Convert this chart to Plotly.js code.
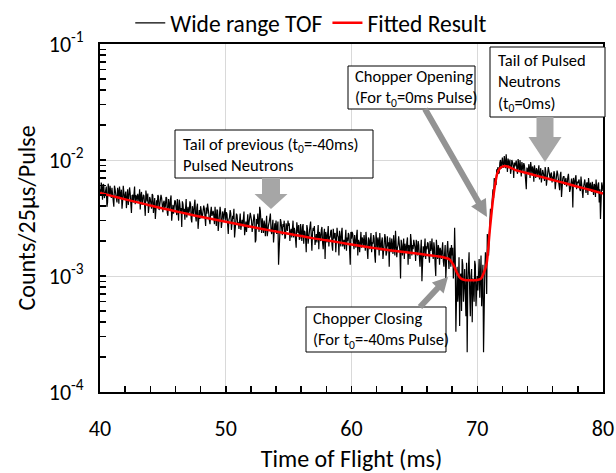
<!DOCTYPE html>
<html>
<head>
<meta charset="utf-8">
<script src="https://cdn.plot.ly/plotly-3.0.1.min.js"></script>
<style>html,body{margin:0;padding:0;background:#fff;}#chart{width:616px;height:473px;}</style>
</head>
<body>
<div id="chart"></div>
<script>
// ---- DATA ----
// Wide range TOF histogram, counts in units of 1e-5 counts/25us/pulse.
// countsE5: bins at 40.0, 40.1, ... 80.0 ms; countsMidE5: bins at 40.05, 40.15, ... 79.95 ms
const tofStartMs = 40;
const tofStepMs = 0.1;
const countsE5 = [
560,640,455,610,520,590,430,545,600,470,
530,395,560,480,575,420,505,555,440,520,
490,385,560,470,520,350,500,545,415,480,
510,440,375,530,455,490,330,470,515,400,
460,380,495,420,310,450,500,370,435,470,
355,445,400,470,330,420,455,300,410,385,
440,335,400,455,350,265,415,380,430,320,
395,360,420,290,375,405,330,390,255,370,
400,315,360,380,270,345,395,300,355,330,
365,280,340,375,245,320,350,290,335,360,
300,340,230,320,345,275,310,215,300,335,
290,320,250,305,330,225,295,315,260,300,
325,240,285,310,205,280,300,395,290,315,
235,280,300,220,275,310,250,265,195,285,
300,255,125,270,290,225,265,210,285,245,
270,200,255,280,215,245,175,260,275,210,
250,265,190,240,160,255,225,270,200,235,
245,185,230,255,170,220,250,195,230,140,
225,240,180,215,250,165,210,235,190,225,
150,215,235,180,205,240,165,200,225,125,
210,230,170,200,220,150,195,215,175,205,
225,165,195,140,205,215,160,190,210,130,
195,215,150,185,200,140,190,210,160,180,
120,195,210,155,180,245,145,185,200,95,
185,205,140,175,195,125,180,230,150,170,
190,135,175,200,145,165,90,180,195,140,
170,190,130,165,210,140,175,100,160,185,
125,165,180,135,155,95,170,140,160,120,
150,95,260,33,120,75,37,105,140,60,
115,45,22,130,70,100,40,80,135,55,
100,120,65,150,85,22,110,140,230,150,
290,330,520,470,640,610,820,760,950,840,
1050,860,980,1120,790,940,1010,830,960,700,
880,990,760,900,1000,720,860,940,780,560,
830,920,700,800,880,650,790,850,720,900,
760,640,820,730,870,600,750,810,680,780,
720,800,560,700,760,620,740,480,690,720,
660,590,710,640,560,690,390,650,700,560,
630,680,540,610,470,650,590,630,500,600,
640,530,580,620,480,560,610,430,310,640,540
];
const countsMidE5 = [
500,580,620,470,555,395,625,490,530,575,
445,600,510,430,540,590,465,380,600,455,
535,460,410,580,365,495,430,590,500,440,
470,560,495,410,500,385,545,440,350,480,
420,510,350,470,440,395,485,425,500,360,
430,385,480,350,460,375,495,410,345,450,
380,460,300,420,385,440,350,305,460,390,
350,440,310,400,335,455,295,420,360,310,
370,330,405,300,390,420,345,280,395,360,
330,395,270,365,310,395,260,360,305,385,
355,265,305,370,250,330,380,260,345,280,
255,345,300,270,360,285,240,340,290,350,
300,265,340,195,310,345,240,365,235,280,
300,220,330,265,290,345,230,305,280,250,
230,295,175,310,255,280,300,215,270,300,
285,240,215,300,260,195,290,235,205,280,
200,280,245,210,275,190,250,295,165,260,
270,220,195,275,240,200,265,170,255,240,
195,270,220,245,185,255,230,160,260,215,
245,180,260,200,170,250,215,235,150,240,
240,195,225,175,250,205,160,240,215,180,
200,240,185,215,170,235,195,225,150,240,
170,200,235,165,215,190,230,150,220,195,
215,160,190,225,150,200,175,220,165,205,
150,210,190,160,215,185,140,200,185,205,
175,205,150,185,120,205,170,145,210,180,
195,150,200,175,155,195,125,205,140,170,
175,140,195,120,185,160,200,115,175,185,
175,120,150,90,60,145,100,50,125,85,
70,130,90,160,45,115,95,60,125,85,
75,140,95,55,125,90,160,70,190,240,
380,420,560,700,680,830,870,780,1000,920,
900,1080,850,960,1030,880,760,1000,890,950,
940,830,1020,790,880,960,800,900,700,860,
760,850,960,760,830,900,700,820,780,680,
850,700,780,660,800,720,870,690,760,640,
680,760,640,810,700,550,790,660,720,610,
700,620,760,530,680,640,700,600,740,650,
660,560,720,600,580,680,520,640,700,540,
580,650,500,600,680,520,640,560,470,600
];
// Fitted result (red curve), same units
const fitTimeMs = [40,41,42,43,44,45,46,47,48,49,50,51,52,53,54,55,56,57,58,59,60,61,62,63,64,65,66,67,67.5,67.8,68.1,68.4,68.7,69,69.5,70,70.3,70.5,70.75,71,71.28,71.6,71.85,72.1,72.4,73,74,75,76,77,78,79,80];
const fitE5 = [520,488,458,431,406,382,362,342,324,308,293,279,266,253,242,231,221,211,203,195,187,180,173,167,162,157,152,147,143,139,125,106,95,92.5,92,92.5,95,105,129,250,484,770,860,885,880,823,769,719,673,630,588,551,515];
const unitE5 = 1e-5;

const seriesNames = ['Wide range TOF', 'Fitted Result'];
const xTickVals = [40, 50, 60, 70, 80];
const yTickVals = [1e-4, 1e-3, 1e-2, 1e-1];
const yTickText = ['10<sup>-4</sup>', '10<sup>-3</sup>', '10<sup>-2</sup>', '10<sup>-1</sup>'];
const xTitle = 'Time of Flight (ms)';
const yTitle = 'Counts/25μs/Pulse';
const notes = [
  'Tail of previous (t<sub>0</sub>=-40ms)<br>Pulsed Neutrons',
  'Chopper Opening<br>(For t<sub>0</sub>=0ms Pulse)',
  'Tail of Pulsed<br>Neutrons<br>(t<sub>0</sub>=0ms)',
  'Chopper Closing<br>(For t<sub>0</sub>=-40ms Pulse)'
];

// ---- BUILD ----
const tofX = [], tofY = [];
countsE5.forEach((v, i) => {
  tofX.push(+(tofStartMs + i * tofStepMs).toFixed(2));
  tofY.push(v * unitE5);
  if (i < countsMidE5.length) {
    tofX.push(+(tofStartMs + (i + 0.5) * tofStepMs).toFixed(3));
    tofY.push(countsMidE5[i] * unitE5);
  }
});
const fitY = fitE5.map(v => v * unitE5);

const FONT = 'Carlito, Calibri, Lato, "Open Sans", sans-serif';
const L = 100, R = 603, T = 44, B = 392;
const W = 616, H = 473;
const px = x => (x - L) / (R - L);
const py = y => (B - y) / (B - T);

function rectShape(x0, y0, x1, y1) {
  return {type: 'rect', xref: 'paper', yref: 'paper', x0: px(x0), x1: px(x1), y0: py(y1), y1: py(y0),
    line: {color: '#000', width: 1}, fillcolor: '#fff', layer: 'above'};
}
function arrowPath(sx, sy, tx, ty, sw, hw, hl, color) {
  const dx = tx - sx, dy = ty - sy, len = Math.hypot(dx, dy);
  const ux = dx / len, uy = dy / len, nx = -uy, ny = ux;
  const bx = tx - ux * hl, by = ty - uy * hl;
  const pts = [
    [sx + nx * sw / 2, sy + ny * sw / 2],
    [bx + nx * sw / 2, by + ny * sw / 2],
    [bx + nx * hw / 2, by + ny * hw / 2],
    [tx, ty],
    [bx - nx * hw / 2, by - ny * hw / 2],
    [bx - nx * sw / 2, by - ny * sw / 2],
    [sx - nx * sw / 2, sy - ny * sw / 2]
  ];
  const d = 'M' + pts.map(p => px(p[0]).toFixed(5) + ',' + py(p[1]).toFixed(5)).join(' L') + ' Z';
  return {type: 'path', xref: 'paper', yref: 'paper', path: d, fillcolor: color, line: {width: 0}, layer: 'above'};
}
function textNote(text, left, centerY) {
  return {xref: 'paper', yref: 'paper', x: px(left), y: py(centerY), xanchor: 'left', yanchor: 'middle',
    text: text, showarrow: false, align: 'left', borderpad: 0,
    font: {family: FONT, size: 16.5, color: '#000'}};
}

const blockGray = '#a6a6a6';
const lineGray = '#939393';

const shapes = [
  rectShape(175, 130, 373, 178),
  rectShape(348, 66, 475, 109),
  rectShape(490, 47, 605, 117),
  rectShape(306, 307, 446, 352),
  arrowPath(271, 178, 271, 209, 18, 33, 15, blockGray),
  arrowPath(545, 117, 545, 162, 17, 33, 25, blockGray),
  arrowPath(425, 109, 487, 217, 6, 17, 17, lineGray),
  arrowPath(420, 307, 448, 277, 6, 16, 15, lineGray)
];
const annotations = [
  textNote(notes[0], 182, 154),
  textNote(notes[1], 354, 87.5),
  textNote(notes[2], 497, 82),
  textNote(notes[3], 312, 329.5)
];

const traces = [
  {x: tofX, y: tofY, type: 'scatter', mode: 'lines', name: seriesNames[0],
   line: {color: '#000000', width: 1.2}},
  {x: fitTimeMs, y: fitY, type: 'scatter', mode: 'lines', name: seriesNames[1],
   line: {color: '#ff0000', width: 2.5, shape: 'spline', smoothing: 0.6}}
];

const layout = {
  width: W, height: H,
  margin: {l: L, r: W - R, t: T, b: H - B, pad: 0, autoexpand: false},
  paper_bgcolor: '#fff', plot_bgcolor: '#fff',
  font: {family: FONT, size: 24, color: '#000'},
  showlegend: true,
  legend: {orientation: 'h', x: 0.42, xanchor: 'center', y: 1 + (T - 1) / (B - T), yanchor: 'top',
    font: {family: FONT, size: 23.5, color: '#000'}, itemwidth: 30, tracegroupgap: 0, bgcolor: 'rgba(0,0,0,0)'},
  xaxis: {
    range: [40, 80], tickmode: 'array', tickvals: xTickVals, ticktext: xTickVals.map(String),
    showgrid: true, gridcolor: '#d9d9d9', gridwidth: 1, zeroline: false,
    showline: true, linecolor: '#000', linewidth: 2, mirror: true,
    ticks: 'inside', ticklen: 6, tickwidth: 1.5, tickcolor: '#000',
    minor: {dtick: 2, tick0: 40, ticks: 'inside', ticklen: 6, tickwidth: 1.5, tickcolor: '#000', showgrid: false},
    tickfont: {family: FONT, size: 22}, ticklabelstandoff: 16,
    title: {text: xTitle, font: {family: FONT, size: 24}, standoff: 12}
  },
  yaxis: {
    type: 'log', range: [-4, -1], tickmode: 'array', tickvals: yTickVals, ticktext: yTickText,
    showgrid: true, gridcolor: '#d9d9d9', gridwidth: 1, zeroline: false,
    showline: true, linecolor: '#000', linewidth: 2, mirror: true,
    ticks: 'inside', ticklen: 6, tickwidth: 1.5, tickcolor: '#000',
    minor: {dtick: 'D1', ticks: 'inside', ticklen: 6, tickwidth: 1.5, tickcolor: '#000', showgrid: false},
    tickfont: {family: FONT, size: 22}, ticklabelstandoff: 10,
    title: {text: yTitle, font: {family: FONT, size: 24}, standoff: 6}
  },
  shapes: shapes,
  annotations: annotations
};

Plotly.newPlot('chart', traces, layout, {displayModeBar: false, staticPlot: true});
</script>
</body>
</html>
